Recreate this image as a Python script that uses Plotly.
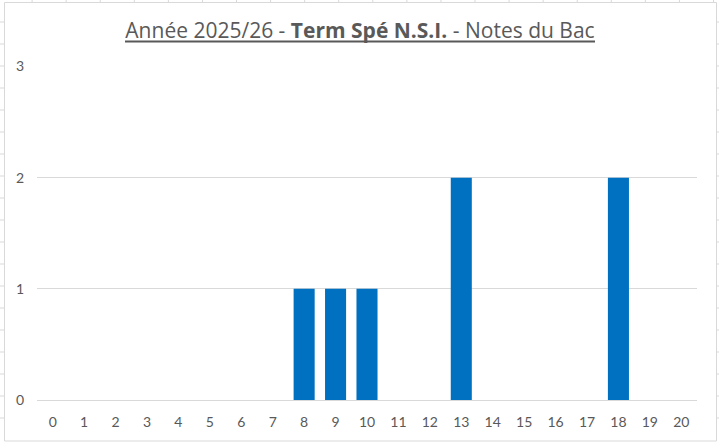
import plotly.graph_objects as go

# notes du bac (0..20) et nombre d'élèves par note
notes = list(range(0, 21))
effectifs = [0, 0, 0, 0, 0, 0, 0, 0, 1, 1, 1, 0, 0, 2, 0, 0, 0, 0, 2, 0, 0]
y_ticks = [0, 1, 2, 3]

titre = "Année 2025/26 - <b>Term Spé N.S.I.</b> - Notes du Bac"

W, H = 719, 442
ML, MR, MT, MB = 37, 22, 66, 42
gris = "#595959"
trait = "#d9d9d9"


def px(x):
    return (x - ML) / (W - ML - MR)


def py(y):
    return (H - MB - y) / (H - MT - MB)


fig = go.Figure()
fig.add_trace(go.Bar(x=notes, y=effectifs, marker_color="#0070C0",
                     marker_line_width=0))

shapes = []
# cadre du graphique
shapes.append(dict(type="rect", xref="paper", yref="paper",
                   x0=px(4.5), x1=px(716.5), y0=py(2.5), y1=py(441),
                   line=dict(color=trait, width=1), layer="below"))
# soulignement du titre
shapes.append(dict(type="line", xref="paper", yref="paper",
                   x0=px(125), x1=px(595), y0=py(41.5), y1=py(41.5),
                   line=dict(color=gris, width=2)))
# lignes de la feuille excel autour du graphique
for k in range(1, 20):
    yy = 22 * k
    shapes.append(dict(type="line", xref="paper", yref="paper",
                       x0=px(0), x1=px(4), y0=py(yy), y1=py(yy),
                       line=dict(color=trait, width=1)))
    shapes.append(dict(type="line", xref="paper", yref="paper",
                       x0=px(717), x1=px(719), y0=py(yy), y1=py(yy),
                       line=dict(color=trait, width=1)))
for k in range(0, 22):
    xx = 32.1 + 34.07 * k
    shapes.append(dict(type="line", xref="paper", yref="paper",
                       x0=px(xx), x1=px(xx), y0=py(0), y1=py(2),
                       line=dict(color=trait, width=1)))

fig.update_layout(
    width=W, height=H,
    margin=dict(l=ML, r=MR, t=MT, b=MB),
    paper_bgcolor="white", plot_bgcolor="white",
    font=dict(family="Lato", color=gris, size=14),
    title=dict(text=titre, x=px(360), xref="paper", xanchor="center",
               y=1 - 31 / H, yanchor="middle",
               font=dict(family="Open Sans", size=21, color=gris)),
    bargap=0.33,
    showlegend=False,
    shapes=shapes,
)
fig.update_xaxes(range=[-0.5, 20.5], tickmode="array", tickvals=notes,
                 ticktext=[str(n) for n in notes], showgrid=False,
                 showline=True, linecolor=trait, linewidth=1,
                 ticks="", ticklabelstandoff=9, fixedrange=True)
fig.update_yaxes(range=[0, 3.004], tickmode="array", tickvals=y_ticks,
                 showgrid=True, gridcolor=trait, gridwidth=1,
                 zeroline=False, showline=False, ticks="",
                 ticklabelstandoff=12, fixedrange=True)

# la page html a une marge de 8px par défaut : on la retire
fig.write_html("out.html", config={"displayModeBar": False},
               post_script="document.body.style.margin='0';")
